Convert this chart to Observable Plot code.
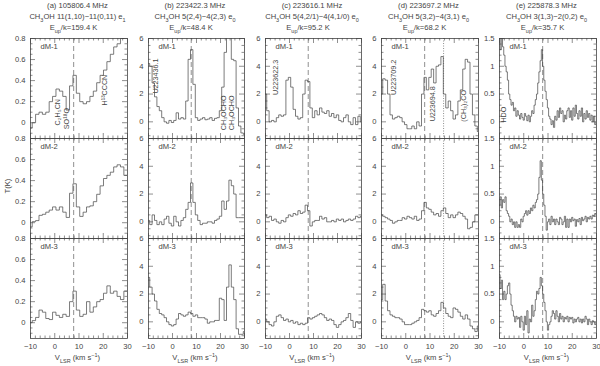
<!DOCTYPE html>
<html><head><meta charset="utf-8">
<script src="https://cdn.jsdelivr.net/npm/d3@7"></script>
<script src="https://cdn.jsdelivr.net/npm/@observablehq/plot@0.6"></script>
<style>
body{margin:0;background:#fff;}
#chart{position:relative;width:600px;height:366px;font-family:"Liberation Sans",sans-serif;color:#444;overflow:hidden;}
.t{position:absolute;white-space:nowrap;font-size:7.6px;line-height:1;transform:translate(-50%,-50%);}
.t sub,.t sup{font-size:5.5px;line-height:0;}
#chart svg{position:absolute;top:0;}
</style></head>
<body><div id="chart"></div>
<script>
// ---------- data ----------
const rowNames = ["dM-1", "dM-2", "dM-3"];
const vSys = 7.8;          // systemic velocity (dashed line)
const vDotD = 15.6;        // dotted line in panel (d)
const xMajor = [-10, 0, 10, 20, 30];
const xMinor = [-8, -6, -4, -2, 2, 4, 6, 8, 12, 14, 16, 18, 22, 24, 26, 28];

// channel grids (km/s)
const velA = d3.range(-10, 31, 1.4);
const velB = d3.range(-10, 30.5, 1);
const velE = d3.range(-10, 30.01, 0.5);

// (a) 105806.4 MHz
const aRow1 = [-0.05,0.0,0.08,0.1,0.08,0.1,0.2,0.25,0.32,0.3,0.25,0.12,0.35,0.45,0.28,0.2,0.18,0.2,0.25,0.3,0.38,0.45,0.5,0.58,0.65,0.72,0.75,0.8,0.85,0.9];
const aRow2 = [-0.04,0.01,0.02,0.07,0.08,0.1,0.12,0.15,0.12,0.15,0.1,0.05,0.28,0.37,0.15,0.06,0.1,0.15,0.16,0.2,0.27,0.35,0.42,0.45,0.48,0.53,0.55,0.53,0.45,0.45];
const aRow3 = [0.0,0.02,0.05,0.12,0.1,0.04,0.03,0.1,0.07,0.05,0.08,0.06,0.2,0.3,0.12,0.06,0.08,0.2,0.1,0.15,0.2,0.22,0.28,0.35,0.28,0.3,0.25,0.22,0.3,0.3];
// (b) 223422.3 MHz
const bRow1 = [4.2,4.0,2.8,1.8,1.1,0.8,0.3,0.0,-0.1,0.1,-0.05,0.1,0.65,0.2,0.3,0.2,1.5,4.5,5.2,2.7,0.3,0.1,0.2,0.3,0.15,0.2,0.3,0.1,0.25,0.3,0.8,2.5,5.0,6.5,6.5,4.5,4.4,1.0,-0.3,-0.8,-0.9];
const bRow2 = [0.1,-0.2,0.5,0.1,-0.2,0.0,-0.2,0.2,0.4,-0.1,-0.3,0.4,0.0,-0.3,0.1,0.3,0.9,1.4,2.8,1.4,0.5,0.1,-0.2,-0.1,-0.1,0.0,0.0,-0.1,0.1,0.2,0.4,1.5,0.9,1.5,3.0,2.6,2.0,0.3,0.3,0.3,0.3];
const bRow3 = [3.2,2.5,2.0,1.5,0.9,0.6,0.5,0.3,0.0,-0.2,-0.3,-0.2,0.2,0.6,0.5,0.4,0.5,0.7,0.6,0.4,0.5,0.3,0.3,0.3,0.2,-0.1,0.0,0.0,0.1,0.1,1.7,1.6,0.1,2.5,4.1,2.5,1.6,-0.5,-0.9,-0.9,-0.7];
// (c) 223616.1 MHz
const cRow1 = [2.0,0.8,0.0,0.1,0.0,0.3,0.5,0.4,0.5,3.0,3.2,2.5,0.9,0.4,0.2,0.3,2.0,3.0,2.9,1.0,0.3,0.8,0.5,1.0,0.7,0.6,0.8,0.4,0.6,0.3,0.5,0.1,0.0,0.3,0.5,0.0,-0.2,0.3,-0.2,0.4,0.0];
const cRow2 = [0.5,0.3,0.4,0.1,0.2,0.0,-0.1,0.1,0.0,0.3,0.5,0.4,0.6,0.5,0.8,0.6,0.7,1.2,0.8,-0.3,0.0,0.1,0.1,0.4,0.2,0.3,0.0,0.0,0.1,0.0,0.2,0.1,0.2,0.0,0.1,0.2,0.1,0.2,0.4,0.3,0.4];
const cRow3 = [0.2,0.0,-0.2,-0.3,0.0,0.4,0.5,0.3,0.1,0.2,0.0,0.1,-0.1,0.0,-0.2,-0.1,-0.2,-0.1,0.3,0.2,0.3,0.4,0.5,0.6,0.5,0.3,0.1,0.2,0.1,-0.2,-0.4,-0.2,0.0,0.1,0.3,0.6,0.1,-0.4,0.0,-0.1,0.0];
// (d) 223697.2 MHz
const dRow1 = [2.0,3.1,3.0,2.0,0.5,0.2,0.3,0.4,0.3,0.0,-0.2,-0.5,-0.5,-0.3,-0.5,0.0,-0.3,2.0,3.2,2.3,3.2,3.8,2.8,4.0,4.1,4.7,2.0,1.0,1.5,0.8,0.2,0.5,1.5,2.3,3.8,4.5,4.3,2.0,0.5,-0.3,-0.7];
const dRow2 = [0.5,0.4,0.3,0.2,0.1,-0.1,0.0,0.1,0.1,0.3,0.2,0.4,0.3,0.2,0.4,0.1,0.2,0.8,1.4,1.0,0.9,0.7,0.5,0.6,0.4,0.8,1.0,0.6,0.3,0.5,0.3,0.5,0.7,0.6,0.4,0.2,-0.5,-0.4,0.0,0.5,0.5];
const dRow3 = [1.6,2.7,1.5,0.8,0.5,0.4,0.3,0.3,0.2,0.0,-0.2,-0.2,-0.2,-0.1,0.0,0.1,0.3,0.9,0.8,0.7,0.8,0.5,0.4,0.6,0.8,1.4,1.0,0.6,0.4,0.3,1.0,0.9,0.7,0.4,0.2,0.5,0.2,-0.3,-0.5,-0.7,-0.3];
// (e) 225878.3 MHz
const eRow1 = [1.6,1.3,1.55,1.35,1.2,1.0,0.9,0.75,0.5,0.4,0.3,0.35,0.2,0.25,0.1,0.2,0.12,0.05,0.15,0.08,0.03,0.15,0.1,0.02,0.12,0.0,0.1,0.2,0.15,0.3,0.4,0.5,0.7,0.9,1.1,1.3,1.0,0.75,0.55,0.4,0.25,0.1,0.05,-0.05,0.02,-0.1,0.1,0.03,0.2,0.08,0.25,0.15,0.2,0.0,0.12,0.05,0.2,0.25,0.08,0.2,0.03,0.25,0.1,0.3,0.15,0.05,0.2,0.1,0.25,0.0,0.15,0.05,0.2,0.08,0.15,0.03,0.12,0.0,0.1,-0.05,0.0];
const eRow2 = [0.3,0.45,0.25,0.4,0.35,0.45,0.2,0.15,0.1,0.0,0.05,-0.05,0.0,-0.1,0.0,-0.1,-0.05,-0.1,0.05,0.0,0.1,0.15,0.2,0.12,0.2,0.15,0.25,0.2,0.3,0.25,0.35,0.4,0.5,0.8,1.1,0.75,0.5,0.3,0.1,-0.15,0.0,0.05,-0.05,0.1,0.0,0.05,-0.05,0.05,0.0,-0.05,0.08,0.05,-0.05,0.0,0.1,-0.1,0.05,-0.1,0.05,0.0,0.08,0.02,0.05,-0.08,0.04,0.0,0.06,-0.05,0.08,0.02,0.05,0.1,0.0,0.08,0.05,0.1,0.05,0.12,0.1,0.15,0.12];
const eRow3 = [0.85,0.6,0.75,0.4,0.55,0.4,0.5,0.65,0.7,0.5,0.3,0.2,0.1,0.0,0.1,0.05,0.08,-0.1,0.1,0.0,-0.15,0.1,-0.05,0.2,-0.2,0.05,0.0,0.3,0.1,0.2,0.4,0.55,0.5,0.6,0.8,0.65,0.5,0.35,0.2,0.0,-0.15,-0.05,0.0,0.1,0.2,0.15,0.05,0.2,0.1,0.0,0.15,0.05,0.1,0.0,0.08,0.05,0.1,0.0,0.08,0.05,0.08,-0.02,0.05,0.0,0.05,0.08,0.0,0.05,-0.02,0.05,0.0,0.1,0.05,-0.05,0.05,0.0,-0.05,0.02,0.0,-0.05,0.0];

// y ticks per column
const yMajorA = [0, 0.2, 0.4, 0.6, 0.8];
const yMinorA = [-0.1, -0.05, 0.05, 0.1, 0.15, 0.25, 0.3, 0.35, 0.45, 0.5, 0.55, 0.65, 0.7, 0.75];
const yMajorB = [0, 2, 4, 6];
const yMinorB = [-1, -0.5, 0.5, 1, 1.5, 2.5, 3, 3.5, 4.5, 5, 5.5];
const yMajorE = [0, 0.5, 1, 1.5];
const yMinorE = [-0.2, -0.1, 0.1, 0.2, 0.3, 0.4, 0.6, 0.7, 0.8, 0.9, 1.1, 1.2, 1.3, 1.4];

// line labels (row dM-1)
const labelsA = [{text: "C\u2082H\u2085CN", v: 1.1, T: 0.1}, {text: "SO\u00B9\u2078O", v: 4.8, T: 0.04}, {text: "H\u00B9\u00B3CCCN", v: 20.5, T: 0.31}];
const labelsB = [{text: "U223436.1", v: -7.1, T: 3.3}, {text: "CH\u2083OCHO", v: 21.3, T: 0.65}, {text: "CH\u2083OCHO", v: 24.6, T: 0.65}];
const labelsC = [{text: "U223622.3", v: -5.8, T: 3.2}];
const labelsD = [{text: "U223709.2", v: -5.0, T: 3.2}, {text: "U223694.8", v: 11.0, T: 1.3}, {text: "(CH\u2083)\u2082CO", v: 23.8, T: 1.15}];
const labelsE = [{text: "HDO", v: -8.3, T: 0.13}];

const titles = [
  ["(a) 105806.4 MHz", "CH<sub>3</sub>OH 11(1,10)\u221211(0,11) e<sub>1</sub>", "E<sub>up</sub>/k=159.4 K"],
  ["(b) 223422.3 MHz", "CH<sub>3</sub>OH 5(2,4)\u22124(2,3) e<sub>0</sub>", "E<sub>up</sub>/k=48.4 K"],
  ["(c) 223616.1 MHz", "CH<sub>3</sub>OH 5(4,2/1)\u22124(4,1/0) e<sub>0</sub>", "E<sub>up</sub>/k=95.2 K"],
  ["(d) 223697.2 MHz", "CH<sub>3</sub>OH 5(3,2)\u22124(3,1) e<sub>0</sub>", "E<sub>up</sub>/k=68.2 K"],
  ["(e) 225878.3 MHz", "CH<sub>3</sub>OH 3(1,3)\u22122(0,2) e<sub>0</sub>", "E<sub>up</sub>/k=35.7 K"]
];

// ---------- drawing ----------
const ink = "#444";
const root = document.getElementById("chart");
const fmt = d => d < 0 ? "\u2212" + Math.abs(d) : String(d);

const columns = [
  {left: 30, right: 127, vel: velA, rows: [aRow1, aRow2, aRow3], yDomain: [-0.15, 0.8], yMajor: yMajorA, yMinor: yMinorA, labels: labelsA},
  {left: 148, right: 244, vel: velB, rows: [bRow1, bRow2, bRow3], yDomain: [-1.2, 6], yMajor: yMajorB, yMinor: yMinorB, labels: labelsB},
  {left: 265, right: 361, vel: velB, rows: [cRow1, cRow2, cRow3], yDomain: [-1.2, 6], yMajor: yMajorB, yMinor: yMinorB, labels: labelsC},
  {left: 381, right: 478, vel: velB, rows: [dRow1, dRow2, dRow3], yDomain: [-1.2, 6], yMajor: yMajorB, yMinor: yMinorB, labels: labelsD, dotted: [vDotD]},
  {left: 499, right: 596, vel: velE, rows: [eRow1, eRow2, eRow3], yDomain: [-0.3, 1.5], yMajor: yMajorE, yMinor: yMinorE, labels: labelsE}
];

const mT = 38, mB = 28, H = 366, mL = 28, mR = 3;
const fh = (H - mT - mB) / 3;

columns.forEach((c, ci) => {
  const fw = c.right - c.left;
  const data = rowNames.flatMap((r, i) => c.vel.map((v, j) => ({v, T: c.rows[i][j], row: r})));
  const tk = {stroke: ink, strokeWidth: 0.6};
  const marks = [
    Plot.ruleX([vSys], {stroke: ink, strokeWidth: 0.6, strokeDasharray: "5,3"}),
    ...(c.dotted ? [Plot.ruleX(c.dotted, {stroke: ink, strokeWidth: 0.6, strokeDasharray: "1,1.5"})] : []),
    Plot.lineY(data, {x: "v", y: "T", fy: "row", curve: "step", stroke: ink, strokeWidth: 0.7, clip: true}),
    // inward ticks, all four sides
    Plot.tickX(xMajor, {x: d => d, insetTop: fh - 5, ...tk}),
    Plot.tickX(xMajor, {x: d => d, insetBottom: fh - 5, ...tk}),
    Plot.tickX(xMinor, {x: d => d, insetTop: fh - 2.5, ...tk}),
    Plot.tickX(xMinor, {x: d => d, insetBottom: fh - 2.5, ...tk}),
    Plot.tickY(c.yMajor, {y: d => d, insetRight: fw - 5, ...tk}),
    Plot.tickY(c.yMajor, {y: d => d, insetLeft: fw - 5, ...tk}),
    Plot.tickY(c.yMinor, {y: d => d, insetRight: fw - 2.5, ...tk}),
    Plot.tickY(c.yMinor, {y: d => d, insetLeft: fw - 2.5, ...tk}),
    Plot.frame({stroke: ink, strokeWidth: 0.8}),
    Plot.axisY(c.yMajor, {tickSize: 0, tickPadding: 5, tickFormat: fmt, label: null, fontSize: 7.6, fill: ink}),
    Plot.axisX(xMajor, {tickSize: 0, tickPadding: 5, tickFormat: fmt, label: null, fontSize: 7.6, fill: ink}),
    Plot.text(rowNames, {fy: d => d, text: d => d, frameAnchor: "top-left", dx: 10, dy: 5, fontSize: 7.6, fill: ink}),
    Plot.text(c.labels, {x: "v", y: "T", fy: () => rowNames[0], text: "text", rotate: -90, fontSize: 7.2, fill: ink})
  ];
  const svg = Plot.plot({
    width: mL + fw + mR, height: H,
    marginLeft: mL, marginRight: mR, marginTop: mT, marginBottom: mB,
    x: {domain: [-10, 30]},
    y: {domain: c.yDomain},
    fy: {domain: rowNames, padding: 0, axis: null},
    style: {fontFamily: "Liberation Sans, sans-serif", fontSize: "7.6px", color: ink, background: "transparent", overflow: "visible"},
    marks
  });
  svg.style.left = (c.left - mL) + "px";
  root.appendChild(svg);

  // titles and axis label (HTML text)
  const cx = (c.left + c.right) / 2;
  const tys = [6, 17, 28];
  titles[ci].forEach((t, k) => {
    const d = document.createElement("div");
    d.className = "t";
    d.innerHTML = t;
    d.style.left = (cx - 1 - (k === 2 ? 4 : 0)) + "px";
    d.style.top = tys[k] + "px";
    root.appendChild(d);
  });
  const xl = document.createElement("div");
  xl.className = "t";
  xl.innerHTML = "V<sub>LSR</sub> (km s<sup>\u22121</sup>)";
  xl.style.left = (cx - 1) + "px";
  xl.style.top = "358px";
  root.appendChild(xl);
});

const yl = document.createElement("div");
yl.className = "t";
yl.textContent = "T(K)";
yl.style.left = "8px";
yl.style.top = "186px";
yl.style.transform = "translate(-50%,-50%) rotate(-90deg)";
root.appendChild(yl);
</script>
</body></html>
